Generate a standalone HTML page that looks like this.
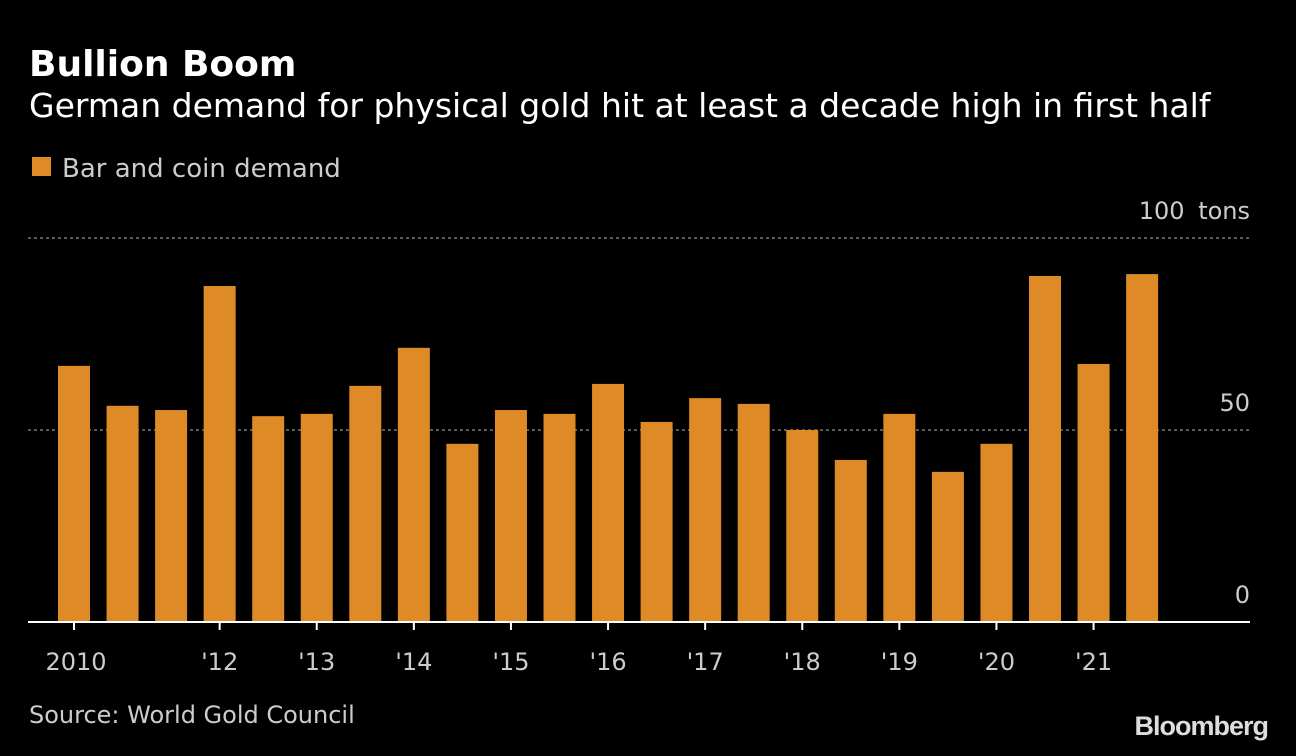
<!DOCTYPE html>
<html><head><meta charset="utf-8"><style>
body{margin:0;background:#000;width:1296px;height:752px;overflow:hidden;font-family:"DejaVu Sans","Liberation Sans",sans-serif}
</style></head><body>
<svg width="1296" height="752" xmlns="http://www.w3.org/2000/svg" font-family="DejaVu Sans, Liberation Sans, sans-serif">
<rect width="1296" height="752" fill="#000"/>
<text x="29" y="76" fill="#fff" font-size="36" font-weight="bold">Bullion Boom</text>
<text x="29" y="117" fill="#fff" font-size="33">German demand for physical gold hit at least a decade high in first half</text>
<rect x="32" y="157" width="19" height="19" fill="#dd8a27"/>
<text x="62" y="177" fill="#ccc" font-size="26">Bar and coin demand</text>
<g id="grid"></g>
<g id="bars"></g>
<g id="xaxis"></g>
<text x="29" y="723" fill="#ccc" font-size="24">Source: World Gold Council</text>
<text x="1268" y="735" fill="#ddd" font-size="27" font-weight="bold" text-anchor="end" letter-spacing="-1" font-family="Liberation Sans, sans-serif">Bloomberg</text>
</svg>
<script>
const values=[66.7,56.3,55.2,87.5,53.6,54.2,61.5,71.4,46.4,55.2,54.2,62,52.1,58.3,56.8,50,42.2,54.2,39.1,46.4,90.1,67.2,90.6];
const yTicks=[0,50,100];
const yTickLabels=["0","50","100 tons"];
const xTickIndex=[0,3,5,7,9,11,13,15,17,19,21];
const xTickLabels=["2010","'12","'13","'14","'15","'16","'17","'18","'19","'20","'21"];
const NS="http://www.w3.org/2000/svg";
const y=v=>622-v*3.84;
const x=i=>74+i*48.55;
function mk(t,a,p){const e=document.createElementNS(NS,t);for(const k in a)e.setAttribute(k,a[k]);p.appendChild(e);return e;}
const g=document.getElementById('grid');
yTicks.forEach((v,i)=>{
 if(v>0){const l=mk('line',{x1:28,x2:1250,y1:y(v),y2:y(v),stroke:'#777','stroke-width':1.5,'stroke-dasharray':'3,3'},g);
 
 }
 const t=mk('text',{x:1250,y:y(v)-19,fill:'#ccc','font-size':24,'text-anchor':'end','word-spacing':6},g);
 t.textContent=yTickLabels[i];
 
 
});
const b=document.getElementById('bars');
values.forEach((v,i)=>{
 const r=mk('rect',{x:x(i)-16,y:y(v),width:32,height:622-y(v),fill:'#dd8a27'},b);
 
 
});
const xa=document.getElementById('xaxis');
const ax=mk('line',{x1:28,x2:1250,y1:622,y2:622,stroke:'#fff','stroke-width':2},xa);


xTickIndex.forEach((idx,i)=>{
 mk('line',{x1:x(idx),x2:x(idx),y1:622,y2:630,stroke:'#fff','stroke-width':2},xa);
 const t=mk('text',{x:x(idx)+(i==0?2:0),y:670,fill:'#ccc','font-size':24,'text-anchor':'middle'},xa);
 t.textContent=xTickLabels[i];
 
 
});
</script>
</body></html>
